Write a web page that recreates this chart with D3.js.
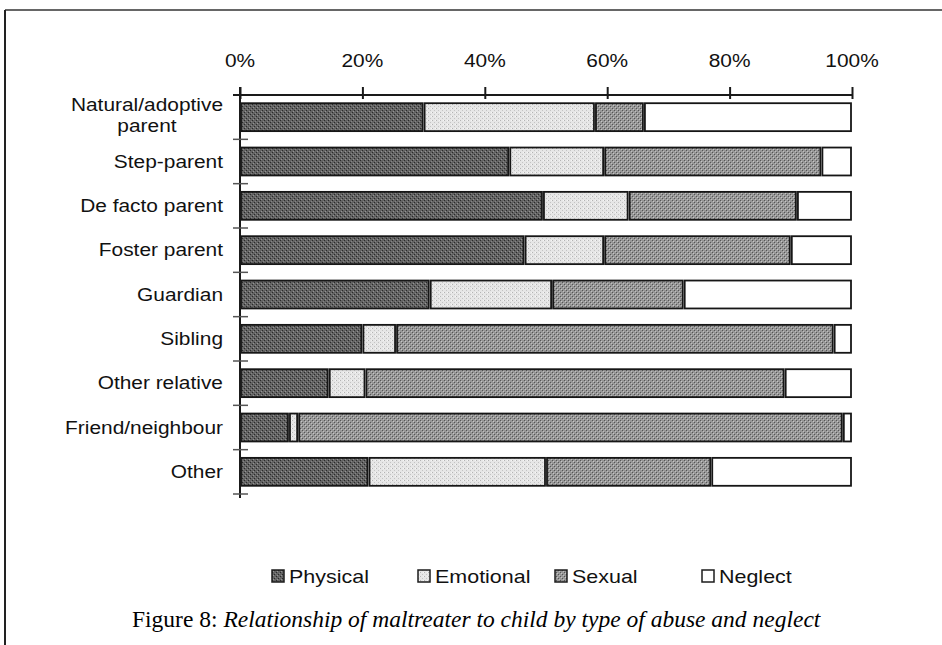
<!DOCTYPE html>
<html>
<head>
<meta charset="utf-8">
<script src="https://cdn.jsdelivr.net/npm/d3@7"></script>
<style>
  body { margin: 0; background: #fff; }
  svg { display: block; }
</style>
</head>
<body>
<div id="chart"></div>
<script>
// data (percent of each relationship group)
const categories = [
    "Natural/adoptive\nparent", "Step-parent", "De facto parent", "Foster parent",
    "Guardian", "Sibling", "Other relative", "Friend/neighbour", "Other"
];
const types = ["Physical", "Emotional", "Sexual", "Neglect"];
const physical  = [30,   44,   49.5, 46.5, 31,   20,   14.5, 8,   21];
const emotional = [28,   15.5, 14,   13,   20,   5.5,  6,    1.5, 29];
const sexual    = [8,    35.5, 27.5, 30.5, 21.5, 71.5, 68.5, 89,  27];
const neglect   = [34,   5,    9,    10,   27.5, 3,    11,   1.5, 23];
const tickValues = [0, 20, 40, 60, 80, 100];
const caption = ["Figure 8: ", "Relationship of maltreater to child by type of abuse and neglect"];

const width = 942, height = 645;
const sx = 1.13;   // the scanned lettering is a bit wider than Arial
const font = "'Liberation Sans', Arial, Helvetica, sans-serif";

const table = categories.map((c, i) => ({
    cat: c, Physical: physical[i], Emotional: emotional[i], Sexual: sexual[i], Neglect: neglect[i]
}));

const svg = d3.select("#chart").append("svg")
    .attr("width", width)
    .attr("height", height);

// halftone-ish fills
const defs = svg.append("defs");
function dotPattern(id, base, dots) {
    const p = defs.append("pattern")
        .attr("id", id)
        .attr("patternUnits", "userSpaceOnUse")
        .attr("width", 4).attr("height", 4);
    p.append("rect").attr("width", 4).attr("height", 4).attr("fill", base);
    dots.forEach(d => p.append("rect")
        .attr("x", d[0]).attr("y", d[1]).attr("width", 1).attr("height", 1).attr("fill", d[2]));
}
dotPattern("pat-physical", "#636363", [[0, 0, "#2a2a2a"], [2, 2, "#2a2a2a"], [1, 3, "#949494"], [3, 1, "#858585"]]);
dotPattern("pat-emotional", "#e6e6e6", [[0, 0, "#b4b4b4"], [2, 2, "#c4c4c4"], [3, 0, "#f6f6f6"]]);
dotPattern("pat-sexual", "#979797", [[0, 0, "#555555"], [2, 2, "#555555"], [1, 1, "#c6c6c6"], [3, 3, "#bebebe"]]);

const fills = d3.scaleOrdinal()
    .domain(types)
    .range(["url(#pat-physical)", "url(#pat-emotional)", "url(#pat-sexual)", "#ffffff"]);

// frame of the scanned page
svg.append("line").attr("x1", 5).attr("x2", width).attr("y1", 10).attr("y2", 10)
    .attr("stroke", "#333").attr("stroke-width", 1.5);
svg.append("line").attr("x1", 5).attr("x2", 5).attr("y1", 10).attr("y2", height)
    .attr("stroke", "#222").attr("stroke-width", 2);

const x = d3.scaleLinear()
    .domain([0, 100])
    .range([240, 852]);
const y = d3.scaleBand()
    .domain(categories)
    .range([95, 494])
    .paddingInner(0.37)
    .paddingOuter(0.185);

function label(g, px, py, str, anchor, size) {
    return g.append("text")
        .attr("transform", `translate(${px},${py}) scale(${sx},1)`)
        .attr("text-anchor", anchor)
        .attr("font-family", font)
        .attr("font-size", size)
        .attr("fill", "#111")
        .text(str);
}

// stacked bars
const stacked = d3.stack().keys(types)(table);
const barG = svg.append("g");
stacked.forEach(layer => {
    barG.append("g")
        .selectAll("rect")
        .data(layer)
        .join("rect")
            .attr("x", d => x(d[0]) + 1)
            .attr("y", d => y(d.data.cat))
            .attr("width", d => Math.max(0, x(d[1]) - x(d[0]) - 2))
            .attr("height", y.bandwidth())
            .attr("fill", fills(layer.key))
            .attr("stroke", "#161616")
            .attr("stroke-width", 1.8);
});

// top axis
const xAxis = d3.axisTop(x).tickValues(tickValues).tickSizeInner(8).tickSizeOuter(0).tickFormat("");
const xg = svg.append("g")
    .attr("transform", `translate(0,${y.range()[0]})`)
    .call(xAxis);
xg.select(".domain").attr("stroke", "#1a1a1a").attr("stroke-width", 2)
    .attr("d", `M${x(0) - 7},0H${x(100)}`);
xg.selectAll(".tick line").attr("stroke", "#1a1a1a").attr("stroke-width", 2).attr("y1", 4);
tickValues.forEach(v => label(svg, x(v), 67, v + "%", "middle", 18.5));

// left axis with ticks between the groups
const step = y.step();
svg.append("line")
    .attr("x1", x(0)).attr("x2", x(0))
    .attr("y1", y.range()[0] - 8).attr("y2", y.range()[1] + 4)
    .attr("stroke", "#1a1a1a").attr("stroke-width", 2);
svg.append("g")
    .selectAll("line")
    .data(categories)
    .join("line")
        .attr("x1", x(0) - 7).attr("x2", x(0) + 8)
        .attr("y1", d => y(d) + y.bandwidth() / 2 + step / 2)
        .attr("y2", d => y(d) + y.bandwidth() / 2 + step / 2)
        .attr("stroke", "#555").attr("stroke-width", 1.5);

// category labels; a wrapped one is centred on its longest line, as printed
const labelRight = 223;
const catG = svg.append("g");
categories.forEach(c => {
    const lines = c.split("\n");
    const cy = y(c) + y.bandwidth() / 2;
    if (lines.length === 1) {
        label(catG, labelRight, cy + 6, c, "end", 18.5);
        return;
    }
    const texts = lines.map((ln, i) =>
        label(catG, 0, cy + 4 + (i - (lines.length - 1) / 2) * 21, ln, "middle", 18.5));
    const widest = d3.max(texts, t => t.node().getComputedTextLength()) * sx;
    texts.forEach((t, i) => t.attr("transform",
        `translate(${labelRight - widest / 2},${cy + 4 + (i - (lines.length - 1) / 2) * 21}) scale(${sx},1)`));
});

// legend
const legendX = [272, 418, 555, 702];
const legendY = 576;
const leg = svg.append("g");
types.forEach((t, i) => {
    leg.append("rect")
        .attr("x", legendX[i]).attr("y", legendY - 6)
        .attr("width", 12).attr("height", 12)
        .attr("fill", fills(t))
        .attr("stroke", "#1c1c1c").attr("stroke-width", 1.5);
    label(leg, legendX[i] + 17, legendY + 6.5, t, "start", 19);
});

// caption
const cap = svg.append("text")
    .attr("x", 132).attr("y", 627)
    .attr("font-family", "'Liberation Serif', 'Times New Roman', serif")
    .attr("font-size", 23.5)
    .attr("fill", "#000");
cap.append("tspan").text(caption[0]);
cap.append("tspan").attr("font-style", "italic").text(caption[1]);
</script>
</body>
</html>
